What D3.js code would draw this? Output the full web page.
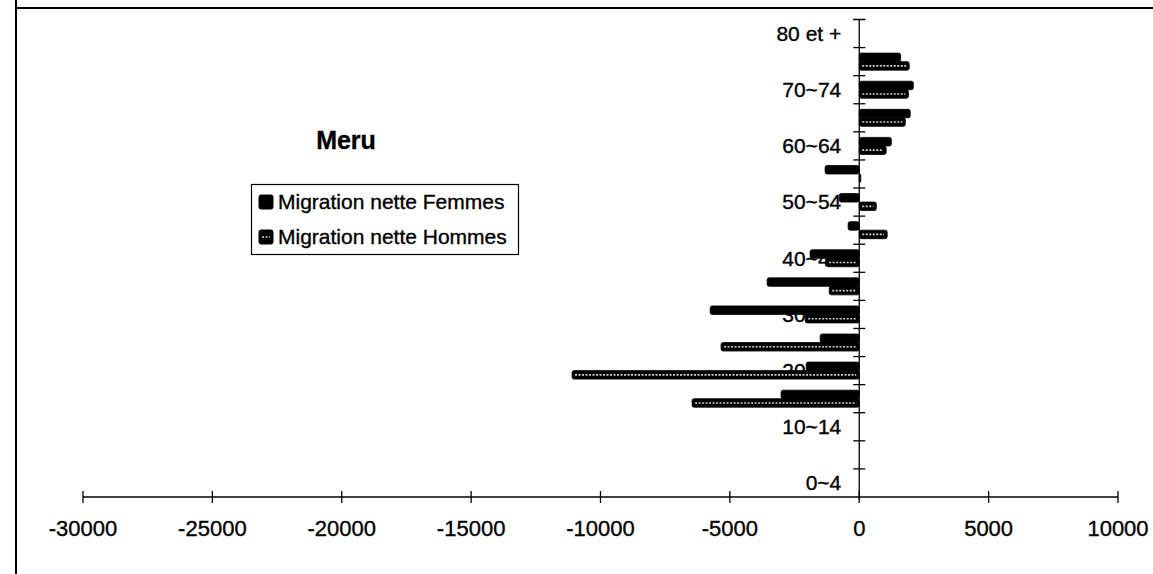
<!DOCTYPE html>
<html><head><meta charset="utf-8">
<script src="https://cdn.jsdelivr.net/npm/d3@7"></script>
<style>body{margin:0;background:#fff}svg{display:block;font-family:"Liberation Sans",Arial,sans-serif}
text{stroke:#000;stroke-width:0.35px}</style>
</head><body><svg id="c" width="1153" height="574"></svg>
<script>
const categories = ["0~4","5~9","10~14","15~19","20~24","25~29","30~34","35~39","40~44","45~49","50~54","55~59","60~64","65~69","70~74","75~79","80 et +"];
const shownLabels = ["0~4","10~14","20~24","30~34","40~44","50~54","60~64","70~74","80 et +"];
const femmes = [0,0,0,-3020,-2050,-1510,-5760,-3560,-1900,-430,-770,-1320,1240,1970,2090,1600,0];
const hommes = [0,0,0,-6460,-11100,-5340,-2090,-1160,-1280,1080,660,60,1040,1780,1900,1930,0];
const xTicks = [-30000,-25000,-20000,-15000,-10000,-5000,0,5000,10000];
const seriesNames = ["Migration nette Femmes","Migration nette Hommes"];
const title = "Meru";

const svg = d3.select("#c");

// frame
svg.append("line").attr("x1",15).attr("x2",1153).attr("y1",8).attr("y2",8).attr("stroke","#000").attr("stroke-width",2);
svg.append("line").attr("x1",16).attr("x2",16).attr("y1",0).attr("y2",574).attr("stroke","#000").attr("stroke-width",2);

const x = d3.scaleLinear().domain([-30000,10000]).range([83,1118]);
const y = d3.scaleBand().domain(categories.slice().reverse()).range([19.5,497]);
const yi = d3.scaleBand().domain([0,1]).range([0,y.bandwidth()]).paddingOuter(0.65).paddingInner(0);

const x0 = x(0);
// category labels (drawn beneath bars)
svg.append("g").selectAll("text").data(shownLabels).join("text")
  .attr("x", x0-18).attr("y", d=>y(d)+y.bandwidth()/2).attr("dy","0.35em")
  .attr("text-anchor","end").attr("font-size",21).text(d=>d);

// bars
const rows = categories.map((c,i)=>({c, f:femmes[i], h:hommes[i]}));
const g = svg.append("g");
rows.forEach(r=>{
  [[r.f,0],[r.h,1]].forEach(([v,k])=>{
    if(v===0) return;
    const bx = Math.min(x(v),x0), bw = Math.abs(x(v)-x0), by = y(r.c)+yi(k), bh = yi.bandwidth();
    g.append("rect").attr("x", bx).attr("width", bw).attr("y", by).attr("height", bh).attr("rx",2)
     .attr("fill","#000").attr("stroke","#000").attr("stroke-width",0.8);
    if(k===1 && bw>6){
      g.append("line").attr("x1",bx+3).attr("x2",bx+bw-3).attr("y1",by+bh/2).attr("y2",by+bh/2)
       .attr("stroke","#cfcfcf").attr("stroke-width",1.6).attr("stroke-dasharray","2,1.5");
    }
  });
});

// x axis
const xa = svg.append("g");
xa.append("line").attr("x1",x(-30000)).attr("x2",x(10000)).attr("y1",497).attr("y2",497).attr("stroke","#000").attr("stroke-width",1.3);
xa.selectAll("line.t").data(xTicks).join("line").attr("class","t")
  .attr("x1",d=>x(d)).attr("x2",d=>x(d)).attr("y1",491).attr("y2",503).attr("stroke","#000").attr("stroke-width",1.3);
xa.selectAll("text").data(xTicks).join("text").attr("x",d=>x(d)).attr("y",528).attr("dy","0.35em")
  .attr("text-anchor","middle").attr("font-size",22).text(d=>d);

// y axis
const ya = svg.append("g");
ya.append("line").attr("x1",x0).attr("x2",x0).attr("y1",y.range()[0]).attr("y2",500).attr("stroke","#000").attr("stroke-width",1.3);
const bounds = categories.map(c=>y(c)).concat([y.range()[0]]);
ya.selectAll("line.t").data(bounds).join("line").attr("class","t")
  .attr("x1",x0-6).attr("x2",x0+6).attr("y1",d=>d).attr("y2",d=>d).attr("stroke","#000").attr("stroke-width",1.3);

// title
svg.append("text").attr("x",346).attr("y",140).attr("dy","0.35em").attr("text-anchor","middle")
  .attr("font-size",25).attr("font-weight","bold").text(title);

// legend
const lg = svg.append("g");
lg.append("rect").attr("x",251.5).attr("y",184.5).attr("width",267).attr("height",70).attr("fill","#fff").attr("stroke","#000").attr("stroke-width",1.2);
seriesNames.forEach((n,i)=>{
  const cy = 202+ i*35;
  lg.append("rect").attr("x",259).attr("y",cy-7).attr("width",14).attr("height",14).attr("rx",2)
    .attr("fill","#000").attr("stroke","#000");
  if(i===1){
    lg.append("line").attr("x1",262).attr("x2",270).attr("y1",cy).attr("y2",cy).attr("stroke","#cfcfcf").attr("stroke-width",1.6).attr("stroke-dasharray","2,1.5");
  }
  lg.append("text").attr("x",278).attr("y",cy).attr("dy","0.35em").attr("font-size",21).text(n);
});
</script></body></html>
